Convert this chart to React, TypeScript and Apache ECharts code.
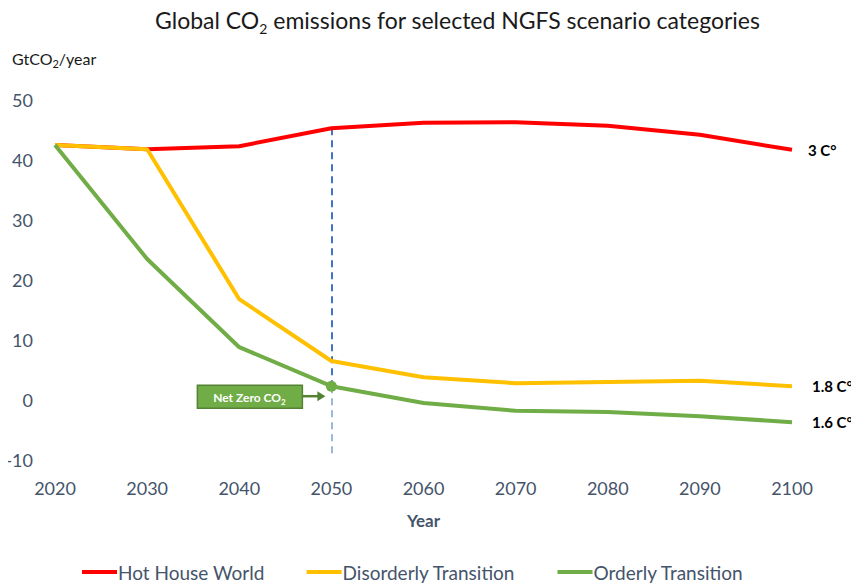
import React, { useEffect, useRef } from "react";
import * as echarts from "echarts";

const years = ["2020", "2030", "2040", "2050", "2060", "2070", "2080", "2090", "2100"];
const hotHouse = [42.5, 41.8, 42.3, 45.3, 46.2, 46.3, 45.7, 44.2, 41.7];
const disorderly = [42.5, 41.8, 16.8, 6.5, 3.8, 2.8, 3.0, 3.2, 2.3];
const orderly = [42.5, 23.5, 8.8, 2.3, -0.5, -1.8, -2.0, -2.7, -3.7];
const endLabels = ["3 C°", "1.8 C°", "1.6 C°"];
const netZeroIndex = 3;
const FONT = "Lato, 'Open Sans', sans-serif";
const TXT = "#44546A";

export default function App() {
  const ref = useRef<HTMLDivElement>(null);
  useEffect(() => {
    if (!ref.current) return;
    const chart = echarts.init(ref.current, null, { renderer: "svg" });
    const mk = (name: string, data: number[], color: string, label: string, dist: number) => ({
      name,
      type: "line",
      data,
      symbol: "none",
      lineStyle: { color, width: 4 },
      itemStyle: { color },
      endLabel: {
        show: true,
        formatter: label,
        distance: dist,
        color: "#000",
        fontWeight: "bold",
        fontSize: 15,
        fontFamily: FONT,
      },
      z: 3,
    });
    const series: any[] = [
      mk("Hot House World", hotHouse, "#FF0000", endLabels[0], 16),
      mk("Disorderly Transition", disorderly, "#FFC000", endLabels[1], 20),
      mk("Orderly Transition", orderly, "#70AD47", endLabels[2], 20),
    ];
    series[0].markLine = {
      silent: true,
      symbol: "none",
      label: { show: false },
      lineStyle: { color: "#4472C4", type: [7, 5], width: 2 },
      data: [
        [
          { coord: [netZeroIndex, hotHouse[netZeroIndex]] },
          { coord: [netZeroIndex, orderly[netZeroIndex]] },
        ],
      ],
      z: 1,
    };
    series[2].markLine = {
      silent: true,
      symbol: "none",
      label: { show: false },
      lineStyle: { color: "#9DB5E1", type: [7, 5], width: 2 },
      data: [
        [
          { coord: [netZeroIndex, orderly[netZeroIndex]] },
          { coord: [netZeroIndex, -9.7] },
        ],
      ],
      z: 1,
    };
    series[2].markPoint = {
      symbol: "circle",
      symbolSize: 11,
      itemStyle: { color: "#70AD47" },
      label: { show: false },
      data: [{ coord: [netZeroIndex, orderly[netZeroIndex]] }],
    };
    chart.setOption({
      animation: false,
      backgroundColor: "#fff",
      textStyle: { fontFamily: FONT },
      title: {
        text: "{m|Global CO}{sub|2}{m| emissions for selected NGFS scenario categories}",
        left: 150,
        top: 0,
        textStyle: {
          fontSize: 23,
          fontWeight: "normal",
          color: "#1a1a1a",
          fontFamily: FONT,
          lineHeight: 30,
          rich: {
            m: { fontSize: 23, color: "#1a1a1a", fontFamily: FONT, lineHeight: 30, verticalAlign: "middle" },
            sub: { fontSize: 14, color: "#1a1a1a", fontFamily: FONT, lineHeight: 14, verticalAlign: "bottom" },
          },
        },
      },
      legend: {
        top: 562,
        left: 82,
        icon: "rect",
        itemWidth: 35,
        itemHeight: 4,
        itemGap: 42,
        padding: 0,
        textStyle: { fontSize: 19, lineHeight: 20, height: 20, color: TXT, fontFamily: FONT, padding: [0, 0, 0, -4] },
        data: ["Hot House World", "Disorderly Transition", "Orderly Transition"],
      },
      grid: { left: 55, right: 67, top: 100, bottom: 123 },
      xAxis: {
        type: "category",
        data: years,
        boundaryGap: false,
        axisLine: { show: false },
        axisTick: { show: false },
        axisLabel: { color: TXT, fontSize: 18, margin: 19, fontFamily: FONT },
        name: "Year",
        nameLocation: "middle",
        nameGap: 52,
        nameTextStyle: { color: TXT, fontSize: 17, fontWeight: "bold", fontFamily: FONT },
        splitLine: { show: false },
      },
      yAxis: {
        type: "value",
        min: -10,
        max: 50,
        interval: 10,
        axisLine: { show: false },
        axisTick: { show: false },
        splitLine: { show: false },
        axisLabel: { color: TXT, fontSize: 18, margin: 22, fontFamily: FONT },
      },
      series,
    });
    const p = chart.convertToPixel({ gridIndex: 0 } as any, [netZeroIndex, orderly[netZeroIndex]]) as number[];
    const bx = p[0] - 134;
    const by = p[1] - 1;
    const ay = by + 11;
    chart.setOption({
      graphic: [
        {
          type: "text",
          left: 12,
          top: 50,
          style: {
            text: "{m|GtCO}{s|2}{m|/year}",
            fontFamily: FONT,
            rich: {
              m: { fontSize: 16, fill: "#1a1a1a", fontFamily: FONT, lineHeight: 22, verticalAlign: "middle" },
              s: { fontSize: 11, fill: "#1a1a1a", fontFamily: FONT, lineHeight: 11, verticalAlign: "bottom" },
            },
          },
        },
        {
          type: "rect",
          shape: { x: bx, y: by, width: 105, height: 23 },
          style: { fill: "#70AD47", stroke: "#548235", lineWidth: 1.5 },
        },
        {
          type: "text",
          x: bx + 52,
          y: by + 12,
          style: {
            text: "{m|Net Zero CO}{s|2}",
            fontFamily: FONT,
            align: "center",
            verticalAlign: "middle",
            rich: {
              m: { fontSize: 12, fill: "#fff", fontWeight: "bold", fontFamily: FONT, lineHeight: 18, verticalAlign: "middle" },
              s: { fontSize: 8, fill: "#fff", fontWeight: "bold", fontFamily: FONT, lineHeight: 8, verticalAlign: "bottom" },
            },
          },
        },
        {
          type: "line",
          shape: { x1: bx + 105, y1: ay, x2: p[0] - 12, y2: ay },
          style: { stroke: "#548235", lineWidth: 2.5 },
        },
        {
          type: "polygon",
          shape: {
            points: [
              [p[0] - 14, ay - 5],
              [p[0] - 6, ay],
              [p[0] - 14, ay + 5],
            ],
          },
          style: { fill: "#548235" },
        },
      ],
    });
    return () => chart.dispose();
  }, []);
  return <div ref={ref} style={{ width: 859, height: 583, marginTop: -8, marginLeft: -8 }} />;
}
